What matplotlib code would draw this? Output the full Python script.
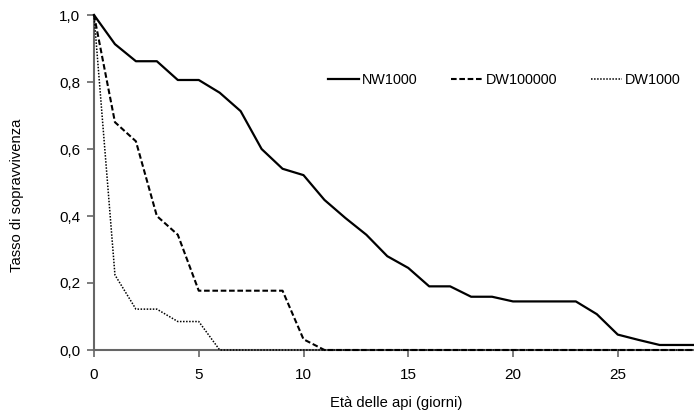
import matplotlib.pyplot as plt
from matplotlib.ticker import FuncFormatter

plt.rcParams['font.family'] = ['Liberation Sans', 'DejaVu Sans']

giorni = list(range(0, 30))
nw1000 = [1.0, 0.913, 0.862, 0.862, 0.806, 0.806, 0.768, 0.713, 0.600, 0.541, 0.522,
          0.448, 0.394, 0.344, 0.280, 0.245, 0.190, 0.190, 0.159, 0.159, 0.145,
          0.145, 0.145, 0.145, 0.107, 0.046, 0.030, 0.015, 0.015, 0.015]
dw100000 = [1.0, 0.680, 0.623, 0.400, 0.344, 0.177, 0.177, 0.177, 0.177, 0.177, 0.032,
            0.0] + [0.0] * 18
dw1000 = [1.0, 0.224, 0.122, 0.122, 0.085, 0.085, 0.0] + [0.0] * 23

fig = plt.figure(figsize=(6.94, 4.12), dpi=100)
ax = fig.add_axes([94 / 694, 62 / 412, 600 / 694, 335 / 412])

ax.plot(giorni, nw1000, color='black', lw=1.6, ls='-', label='NW1000', zorder=3, clip_on=False)
ax.plot(giorni, dw100000, color='black', lw=1.5, ls=(0, (2.7, 1.3)), label='DW100000',
        zorder=3, clip_on=False)
ax.plot(giorni, dw1000, color='black', lw=1.1, ls=(0, (1, 1)), label='DW1000',
        zorder=3, clip_on=False)

ax.set_xlim(0, 600 / 20.95)
ax.set_ylim(0, 1.0)
ax.set_xticks([0, 5, 10, 15, 20, 25])
ax.set_yticks([0, 0.2, 0.4, 0.6, 0.8, 1.0])
ax.yaxis.set_major_formatter(FuncFormatter(lambda v, p: f"{v:.1f}".replace('.', ',')))

for s in ['top', 'right']:
    ax.spines[s].set_visible(False)
for s in ['left', 'bottom']:
    ax.spines[s].set_color('#666666')
    ax.spines[s].set_linewidth(1.5)
ax.tick_params(axis='both', colors='#666666', labelcolor='black', labelsize=11,
               length=5, width=1.2, pad=5)
ax.tick_params(axis='x', pad=8)

ax.set_xlabel('Età delle api (giorni)', fontsize=10.6, va='center')
ax.xaxis.set_label_coords(0.504, -0.158)
ax.set_ylabel('Tasso di sopravvivenza', fontsize=10.6, va='center')
ax.yaxis.set_label_coords(-0.128, 0.463)

ax.legend(loc='upper right', bbox_to_anchor=(1.0, 0.865), ncol=3, frameon=False,
          fontsize=10.4, handlelength=2.2, handletextpad=0.2, columnspacing=2.3)

fig.savefig('out.png', dpi=100)
